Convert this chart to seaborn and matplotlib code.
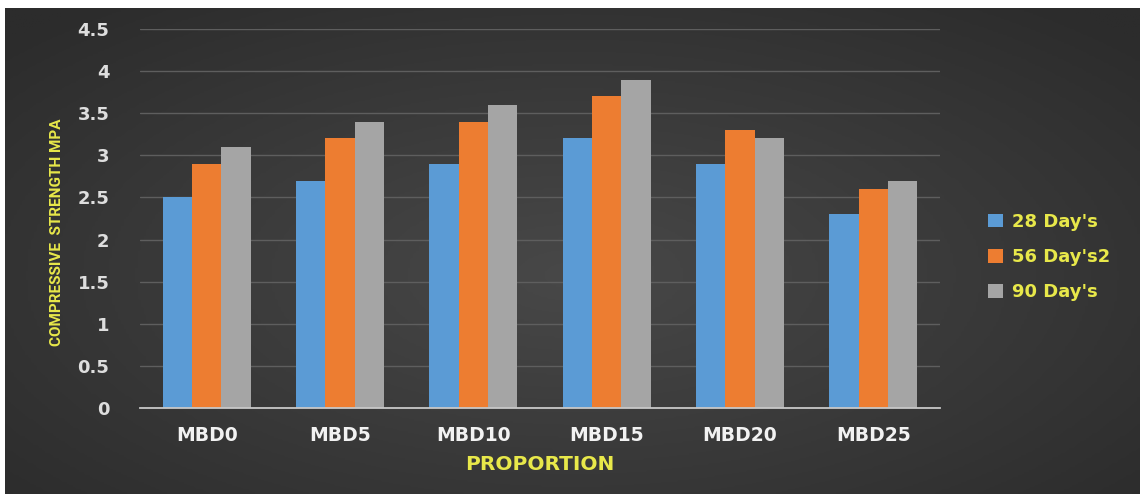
import numpy as np
import pandas as pd
import seaborn as sns
import matplotlib.pyplot as plt
from matplotlib.colors import LinearSegmentedColormap
from matplotlib.patches import Patch

categories = ['MBD0', 'MBD5', 'MBD10', 'MBD15', 'MBD20', 'MBD25']
series = ["28 Day's", "56 Day's2", "90 Day's"]
day28 = [2.5, 2.7, 2.9, 3.2, 2.9, 2.3]
day56 = [2.9, 3.2, 3.4, 3.7, 3.3, 2.6]
day90 = [3.1, 3.4, 3.6, 3.9, 3.2, 2.7]
colors = ['#5b9bd5', '#ed7d31', '#a5a5a5']

df = pd.DataFrame({'proportion': categories * 3,
                   'series': [s for s in series for _ in categories],
                   'value': day28 + day56 + day90})

sns.set_style('dark')
plt.rcParams['font.family'] = ['DejaVu Sans']

fig = plt.figure(figsize=(11.4, 4.97), dpi=100)
fig.patch.set_facecolor('white')

# dark panel with a soft radial gradient
bg = fig.add_axes([5 / 1140, 3 / 497, 1135 / 1140, 486 / 497])
yy, xx = np.mgrid[0:1:200j, 0:1:400j]
r = np.sqrt(((xx - 0.5) / 0.75) ** 2 + ((yy - 0.55) / 0.8) ** 2)
cmap = LinearSegmentedColormap.from_list('panel', ['#484848', '#2c2c2c'])
bg.imshow(r, cmap=cmap, vmin=0, vmax=0.9, aspect='auto', extent=[0, 1, 0, 1])
bg.set_axis_off()

ax = fig.add_axes([140 / 1140, 89 / 497, 800 / 1140, 379 / 497])
ax.patch.set_alpha(0)
sns.barplot(data=df, x='proportion', y='value', hue='series', palette=colors,
            width=0.66, gap=0, saturation=1, edgecolor='none', ax=ax, legend=False)

ax.set_ylim(0, 4.5)
ax.set_yticks(np.arange(0, 4.6, 0.5))
ax.set_yticklabels(['0', '0.5', '1', '1.5', '2', '2.5', '3', '3.5', '4', '4.5'])
ax.grid(axis='y', color='#5e5e5e', linewidth=1)
ax.set_axisbelow(True)
for s in ['top', 'right', 'left']:
    ax.spines[s].set_visible(False)
ax.spines['bottom'].set_color('#c8c8c8')
ax.spines['bottom'].set_linewidth(1.3)
ax.tick_params(axis='y', length=0, pad=22, labelsize=13, labelcolor='#dedede')
ax.tick_params(axis='x', length=0, pad=13, labelsize=13.5, labelcolor='#f2f2f2')
for t in ax.get_xticklabels() + ax.get_yticklabels():
    t.set_fontweight('bold')
ax.set_xlabel('')
ax.set_ylabel('')

fig.text(57 / 1140, 1 - 232 / 497, 'COMPRESSIVE  STRENGTH MPA', rotation=90,
         ha='center', va='center', color='#e8e84a', fontsize=11,
         family=['Roboto', 'DejaVu Sans'], fontweight='bold')
fig.text(540 / 1140, 1 - 465 / 497, 'PROPORTION', ha='center', va='center',
         color='#e8e84a', fontsize=14.5, fontweight='bold')

handles = [Patch(facecolor=c, edgecolor='none') for c in colors]
leg = fig.legend(handles, series, loc='center left',
                 bbox_to_anchor=(972 / 1140, 1 - 257 / 497), frameon=False,
                 handlelength=0.8, handleheight=0.8, handletextpad=0.5,
                 labelspacing=0.95, prop={'size': 13, 'weight': 'bold'})
for t in leg.get_texts():
    t.set_color('#e8e84a')

plt.savefig('out.png', dpi=100, facecolor=fig.get_facecolor())
